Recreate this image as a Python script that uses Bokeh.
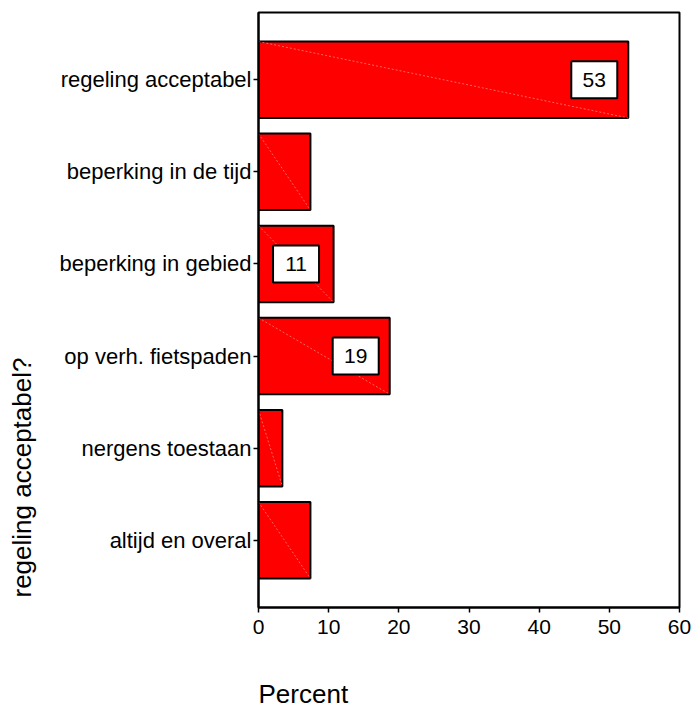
from bokeh.plotting import figure
from bokeh.models import FixedTicker, Title, ColumnDataSource, Range1d
from bokeh.embed import file_html
from bokeh.resources import INLINE

categories = ["regeling acceptabel", "beperking in de tijd", "beperking in gebied",
              "op verh. fietspaden", "nergens toestaan", "altijd en overal"]
percent = [52.7, 7.4, 10.7, 18.7, 3.4, 7.4]
bar_labels = [53, None, 11, 19, None, None]
x_ticks = [0, 10, 20, 30, 40, 50, 60]

FONT = "Liberation Sans"
n = len(categories)
ypos = [n - i for i in range(n)]
bar_h = 0.83

W, H = 691, 709
left, top, right, bottom = 258, 12, 12, 102
frame_w = W - left - right
x_max = 60
px_per_unit = frame_w / x_max

p = figure(width=W, height=H, output_backend="svg", toolbar_location=None,
           x_range=Range1d(0, x_max), y_range=Range1d(0.27, n + 0.73),
           min_border_left=left, min_border_right=right,
           min_border_top=top, min_border_bottom=bottom)

src = ColumnDataSource(dict(y=ypos, right=percent, cat=categories,
                            top=[y + bar_h / 2 for y in ypos],
                            bot=[y - bar_h / 2 for y in ypos],
                            x0=[0] * n))
p.hbar(y="y", right="right", left=0, height=bar_h, source=src,
       fill_color="#ff0000", line_color="black", line_width=2)
p.segment(x0="x0", y0="top", x1="right", y1="bot", source=src,
          line_color="#ff9a9a", line_width=0.8, line_dash="2 2", line_alpha=0.8)

lx, ly, lt = [], [], []
for v, lab, y in zip(percent, bar_labels, ypos):
    if lab is None:
        continue
    if v * px_per_unit > 100:
        lx.append(v - 34 / px_per_unit)
    else:
        lx.append(v / 2)
    ly.append(y)
    lt.append(str(lab))
lsrc = ColumnDataSource(dict(x=lx, y=ly, t=lt))
p.rect(x="x", y="y", width=46, height=37, width_units="screen", height_units="screen",
       source=lsrc, fill_color="white", line_color="black", line_width=2)
p.text(x="x", y="y", text="t", source=lsrc, text_align="center", text_baseline="middle",
       text_font_size="21px", text_color="black", text_font={"value": FONT})

p.xgrid.visible = False
p.ygrid.visible = False
p.outline_line_color = "black"
p.outline_line_width = 2
p.outline_line_alpha = 1

p.xaxis.ticker = FixedTicker(ticks=x_ticks)
p.yaxis.ticker = FixedTicker(ticks=ypos)
p.yaxis.major_label_overrides = {y: c for y, c in zip(ypos, categories)}
for ax in (p.xaxis, p.yaxis):
    ax.axis_line_width = 2
    ax.axis_line_color = "black"
    ax.major_tick_line_color = "black"
    ax.major_tick_line_width = 1.5
    ax.major_tick_out = 5
    ax.major_tick_in = 0
    ax.minor_tick_line_color = None
    ax.major_label_text_font = FONT
    ax.major_label_text_color = "black"
p.xaxis.major_label_text_font_size = "21px"
p.yaxis.major_label_text_font_size = "22px"
p.xaxis.major_label_standoff = 7
p.yaxis.major_label_standoff = 2

p.add_layout(Title(text="Percent", align="left", offset=0, standoff=0,
                   padding=(0, 0, 40, 0),
                   text_font=FONT, text_font_size="26px", text_font_style="normal",
                   text_color="black"), "below")
p.add_layout(Title(text="regeling acceptabel?", align="left", offset=10, standoff=0,
                   padding=(0, 0, 0, 20),
                   text_font=FONT, text_font_size="26px", text_font_style="normal",
                   text_color="black"), "left")

open("out.html", "w").write(file_html(p, INLINE))
